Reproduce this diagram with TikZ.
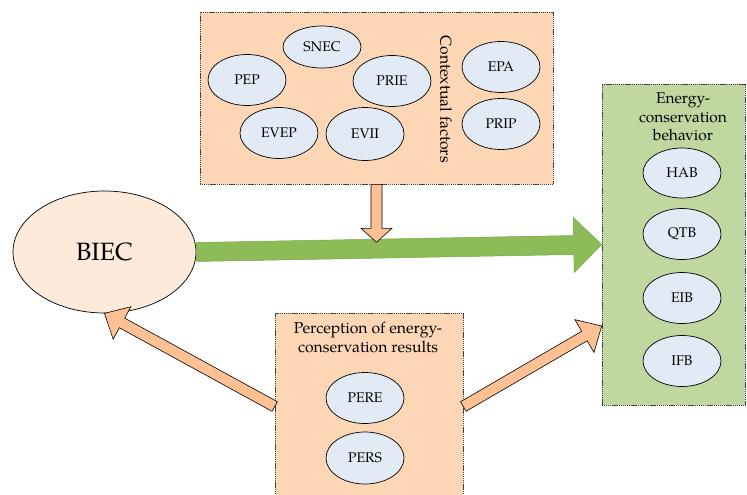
\documentclass[tikz,border=0pt]{standalone}
\usepackage{fontspec}
\setmainfont{TeX Gyre Pagella}
\usetikzlibrary{shapes.geometric,calc}
\definecolor{peach}{HTML}{FDD6B5}
\definecolor{oval}{HTML}{E1EAF5}
\definecolor{leaf}{HTML}{C0D8A0}
\definecolor{grass}{HTML}{8DBB58}
\definecolor{grassdark}{HTML}{77A547}
\definecolor{apricot}{HTML}{FFC193}
\definecolor{biecfill}{HTML}{FDEADB}
\newcommand\blockarrow[6]{%
  \coordinate (ba-a) at (#1);
  \coordinate (ba-b) at (#2);
  \coordinate (ba-h) at ($(ba-b)!#5pt!(ba-a)$);
  \filldraw[#6] ($(ba-a)!#3pt!90:(ba-b)$) -- ($(ba-h)!#3pt!90:(ba-b)$) -- ($(ba-h)!#4pt!90:(ba-b)$) -- (ba-b) -- ($(ba-h)!#4pt!-90:(ba-b)$) -- ($(ba-h)!#3pt!-90:(ba-b)$) -- ($(ba-a)!#3pt!-90:(ba-b)$) -- cycle;}
\tikzset{
  groupbox/.style={draw=black!75, line width=0.6pt, dash pattern=on 1.2pt off 0.7pt, inner sep=0pt},
  oval/.style={ellipse, draw=black, line width=0.7pt, fill=oval, inner sep=0pt, minimum width=78pt, minimum height=51pt, font=\fontsize{14}{16}\selectfont},
  titletext/.style={align=center, font=\fontsize{15.8}{19}\selectfont, inner sep=0pt},
  orangearrow/.style={fill=apricot, draw=black, line width=0.6pt, line join=miter},
  greenarrow/.style={fill=grass, draw=grassdark, line width=0.5pt, line join=miter}
}
\begin{document}
\begin{tikzpicture}[x=1pt,y=-1pt]
\path[use as bounding box] (0,0) rectangle (747,495);
\clip (0,0) rectangle (747,495);
% group boxes
\node[groupbox, fill=peach, minimum width=353pt, minimum height=172pt] (ctx) at (376.5,98) {};
\node[groupbox, fill=leaf, minimum width=143pt, minimum height=321pt] (beh) at (673.5,244.5) {};
\node[groupbox, fill=peach, minimum width=188pt, minimum height=187pt] (perc) at (369,406.5) {};
% contextual factors
\node[oval, minimum height=42pt] (snec) at (322,47) {SNEC};
\node[oval] (pep) at (247,80) {PEP};
\node[oval] (prie) at (392,81) {PRIE};
\node[oval] (evep) at (279,133) {EVEP};
\node[oval, minimum height=53pt] (evii) at (365,134) {EVII};
\node[oval] (epa) at (501,67) {EPA};
\node[oval] (prip) at (501,124) {PRIP};
\node[titletext, rotate=-90] (ctxlabel) at (446,99) {Contextual factors};
% behaviour
\node[titletext, font=\fontsize{15.5}{18.5}\selectfont] (behlabel) at (683,117) {Energy-\\conservation\\behavior};
\node[oval, minimum height=50pt] (hab) at (682,173) {HAB};
\node[oval] (qtb) at (682,234) {QTB};
\node[oval] (eib) at (682,298) {EIB};
\node[oval] (ifb) at (682,361) {IFB};
% perception
\node[titletext] (perclabel) at (368,337.5) {Perception of energy-\\conservation results};
\node[oval] (pere) at (365,398) {PERE};
\node[oval, minimum height=52pt] (pers) at (365,458) {PERS};
% BIEC
\node[ellipse, draw=black, line width=0.7pt, fill=biecfill, minimum width=183pt, minimum height=122pt, inner sep=0pt, font=\fontsize{25}{28}\selectfont] (biec) at (104.5,252) {BIEC};
% arrows
\blockarrow{biec.east}{beh.west}{9.5}{27.5}{28}{greenarrow}
\blockarrow{ctx.south}{$(ctx.south)+(0,58)$}{5.5}{15.5}{14}{orangearrow}
\blockarrow{perc.west}{biec.south}{5.5}{18.5}{20}{orangearrow}
\coordinate (behin) at (beh.west |- 0,326);
\blockarrow{perc.east}{behin}{5.5}{19}{20}{orangearrow}
\end{tikzpicture}
\end{document}
